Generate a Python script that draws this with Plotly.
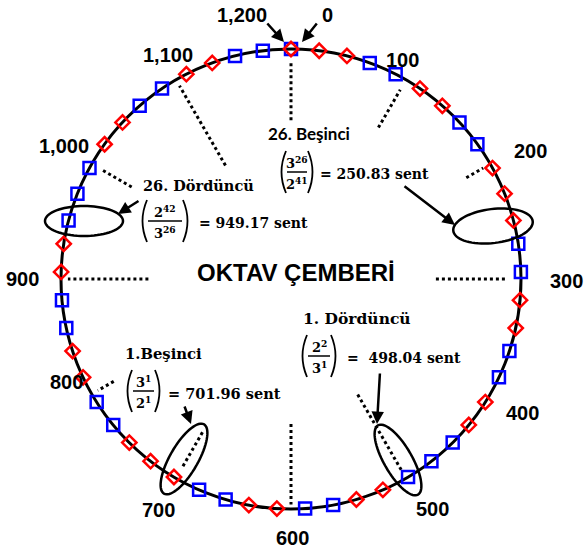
import math
import plotly.graph_objects as go

# ---- data (cents) ----
fifth_cents = [701.96, 203.91, 905.87, 407.82, 1109.78, 611.73, 113.69, 815.64, 317.60, 1019.55,
               521.51, 23.46, 725.42, 227.37, 929.33, 431.28, 1133.24, 635.19, 137.15, 839.10,
               341.06, 1043.01, 544.97, 46.92, 748.88, 250.83]
fourth_cents = [498.04, 996.09, 294.13, 792.18, 90.22, 588.27, 1086.31, 384.36, 882.40, 180.45,
                678.49, 1176.54, 474.58, 972.63, 270.67, 768.72, 66.76, 564.81, 1062.85, 360.90,
                858.94, 156.99, 655.03, 1153.08, 451.12, 949.17]
origin_cents = [0]

tick_cents = [0, 100, 200, 300, 500, 600, 700, 800, 900, 1000, 1100]
tick_r_inner = [0.69, 0.76, 0.88, 0.63, 0.58, 0.63, 0.77, 0.89, 0.62, 0.80, 0.57]
tick_r_outer = [0.94, 0.95, 0.965, 0.94, 0.96, 0.98, 0.94, 0.97, 0.97, 0.955, 0.97]

tick_labels = ["1,200", "0", "100", "200", "300", "400", "500", "600", "700", "800", "900", "1,000", "1,100"]
tick_label_pos = [(242, 15), (327, 15), (402, 60), (530, 151), (566, 281), (522, 413), (432, 509),
                  (292, 538), (158, 510), (66, 382), (22, 279), (64, 146), (168, 55)]

W, H = 586, 549
CX, CY, R = 291, 279, 230


def deg(c):
    return c * 360.0 / 1200.0


fig = go.Figure()

# invisible cartesian trace to create pixel-coordinate axes for annotations
fig.add_trace(go.Scatter(x=[0, W], y=[0, H], mode="markers", marker=dict(opacity=0),
                         showlegend=False, hoverinfo="skip"))

# dotted radial ticks
tr, tt = [], []
for c, r0, r1 in zip(tick_cents, tick_r_inner, tick_r_outer):
    tr += [r0, r1, None]
    tt += [deg(c), deg(c), None]
fig.add_trace(go.Scatterpolar(r=tr, theta=tt, mode="lines",
                              line=dict(color="black", width=3, dash="dot"),
                              showlegend=False, hoverinfo="skip", cliponaxis=False))

# fourths (blue squares)
fig.add_trace(go.Scatterpolar(r=[1] * (len(fourth_cents) + 1), theta=[deg(c) for c in origin_cents + fourth_cents],
                              mode="markers",
                              marker=dict(symbol="square-open", size=12, color="#0000FF",
                                          line=dict(width=2.5, color="#0000FF")),
                              showlegend=False, cliponaxis=False))
# fifths (red diamonds)
fig.add_trace(go.Scatterpolar(r=[1] * (len(fifth_cents) + 1), theta=[deg(c) for c in origin_cents + fifth_cents],
                              mode="markers",
                              marker=dict(symbol="diamond-open", size=11, color="#FF0000",
                                          line=dict(width=2.5, color="#FF0000")),
                              showlegend=False, cliponaxis=False))

shapes = []
annotations = []


def ellipse_path(cx, cy, a, b, ang, n=72):
    t = math.radians(ang)
    pts = []
    for i in range(n):
        u = 2 * math.pi * i / n
        x = a * math.cos(u)
        y = b * math.sin(u)
        pts.append((cx + x * math.cos(t) - y * math.sin(t), cy + x * math.sin(t) + y * math.cos(t)))
    return "M " + " L ".join(f"{x:.2f},{y:.2f}" for x, y in pts) + " Z"


for (cx, cy, a, b, ang) in [(84, 221, 39, 15, 0), (493, 226, 40, 17, -7),
                            (184, 459, 40, 14, -60), (398, 460, 40, 14, 60)]:
    shapes.append(dict(type="path", xref="x", yref="y", path=ellipse_path(cx, cy, a, b, ang),
                       line=dict(color="black", width=2.5)))

# tick labels
for lab, (x, y) in zip(tick_labels, tick_label_pos):
    annotations.append(dict(x=x, y=y, xref="x", yref="y", text=f"<b>{lab}</b>", showarrow=False,
                            font=dict(family="Liberation Sans, Arial", size=20, color="black")))

# arrows (tail -> head)
for (tx, ty, hx, hy) in [(266, 22, 284, 42), (318, 22, 302, 42), (140, 200, 118, 214),
                         (403, 185, 455, 225), (380, 372, 377, 424), (184, 405, 191, 424)]:
    annotations.append(dict(x=hx, y=hy, ax=tx, ay=ty, xref="x", yref="y", axref="x", ayref="y",
                            text="", showarrow=True, arrowhead=2, arrowsize=1, arrowwidth=2.5,
                            arrowcolor="black", standoff=0, startstandoff=0))

annotations.append(dict(x=296, y=272, xref="x", yref="y", text="<b>OKTAV ÇEMBERİ</b>", showarrow=False,
                        font=dict(family="Liberation Sans, Arial", size=24, color="black")))

SERIF = "DejaVu Serif"


def block(title, tx, ty, tfont, tsize, xl, xr, yc, num, den, val, vx, vsize):
    annotations.append(dict(x=tx, y=ty, xref="x", yref="y", text=f"<b>{title}</b>", showarrow=False,
                            font=dict(family=tfont, size=tsize, color="black")))
    xc = (xl + xr) / 2
    annotations.append(dict(x=xc, y=yc - 10, xref="x", yref="y", text=f"<b>{num}</b>", showarrow=False,
                            font=dict(family=SERIF, size=13, color="black")))
    annotations.append(dict(x=xc, y=yc + 11, xref="x", yref="y", text=f"<b>{den}</b>", showarrow=False,
                            font=dict(family=SERIF, size=13, color="black")))
    shapes.append(dict(type="line", xref="x", yref="y", x0=xl + 6, x1=xr - 6, y0=yc, y1=yc,
                       line=dict(color="black", width=1.5)))
    shapes.append(dict(type="path", xref="x", yref="y",
                       path=f"M {xl + 5},{yc - 21} Q {xl - 4},{yc} {xl + 5},{yc + 21}",
                       line=dict(color="black", width=1.8)))
    shapes.append(dict(type="path", xref="x", yref="y",
                       path=f"M {xr - 5},{yc - 21} Q {xr + 4},{yc} {xr - 5},{yc + 21}",
                       line=dict(color="black", width=1.8)))
    annotations.append(dict(x=vx, y=yc + 2, xref="x", yref="y", text=f"<b>{val}</b>", showarrow=False,
                            xanchor="left", font=dict(family=SERIF, size=vsize, color="black")))


block("26. Beşinci", 309, 133, "Lato", 17, 281, 313, 172, "3<sup>26</sup>", "2<sup>41</sup>",
      "= 250.83 sent", 318, 14)
block("26. Dördüncü", 198, 185, SERIF, 14.5, 142, 188, 221, "2<sup>42</sup>", "3<sup>26</sup>",
      "= 949.17 sent", 197, 14)
block("1. Dördüncü", 357, 318, SERIF, 15.5, 302, 336, 356, "2<sup>2</sup>", "3<sup>1</sup>",
      "=\u00a0\u00a0498.04 sent", 345, 14)
block("1.Beşinci", 163, 353, SERIF, 14.8, 127, 160, 391, "3<sup>1</sup>", "2<sup>1</sup>",
      "= 701.96 sent", 166, 14.5)

fig.update_layout(
    width=W, height=H, margin=dict(l=0, r=0, t=0, b=0),
    paper_bgcolor="white", plot_bgcolor="white", showlegend=False,
    xaxis=dict(range=[0, W], domain=[0, 1], visible=False, fixedrange=True),
    yaxis=dict(range=[H, 0], domain=[0, 1], visible=False, fixedrange=True),
    polar=dict(
        domain=dict(x=[(CX - R) / W, (CX + R) / W], y=[(H - CY - R) / H, (H - CY + R) / H]),
        bgcolor="rgba(0,0,0,0)",
        radialaxis=dict(range=[0, 1], visible=False),
        angularaxis=dict(rotation=90, direction="clockwise", showline=True, linecolor="black",
                         linewidth=3, showgrid=False, showticklabels=False, ticks="",
                         layer="below traces"),
    ),
    shapes=shapes, annotations=annotations,
)

fig.write_html("out.html", config={"displayModeBar": False},
               post_script="document.body.style.margin='0px';document.body.style.overflow='hidden';")
